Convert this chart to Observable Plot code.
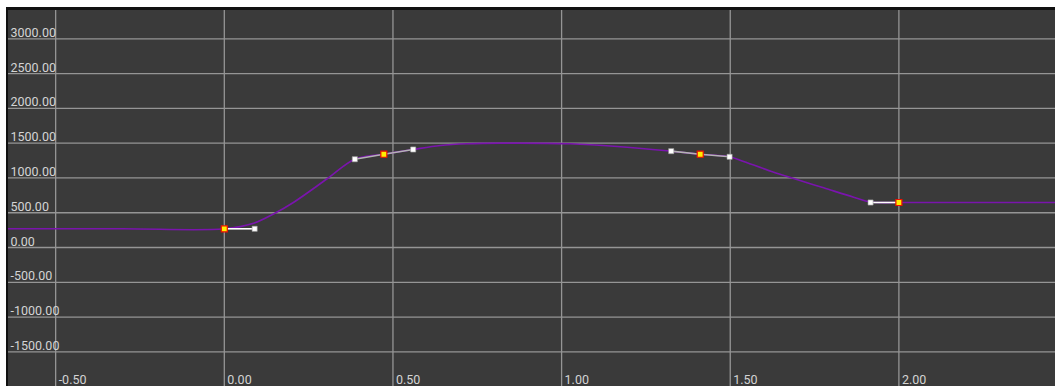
<!DOCTYPE html>
<html>
<head>
<meta charset="utf-8">
<script src="https://cdn.jsdelivr.net/npm/d3@7"></script>
<script src="https://cdn.jsdelivr.net/npm/@observablehq/plot@0.6"></script>
<style>
  html, body { margin: 0; padding: 0; background: #ffffff; width: 1055px; height: 386px; overflow: hidden; }
  #chart svg { position: absolute; left: 6px; top: 7px; border-left: 2px solid #111; border-top: 3px solid #111; display: block; }
</style>
</head>
<body>
<div id="chart"></div>
<script>
// Curve samples (time, value)
const curveT = [-0.64, -0.3, 0, 0.087, 0.147, 0.206, 0.305, 0.387, 0.473, 0.56, 0.641, 0.72, 0.819, 1.026, 1.165, 1.313, 1.411, 1.498, 1.531, 1.629, 1.688, 1.777, 1.866, 1.916, 2.0, 2.2, 2.47];
const curveV = [269, 269, 269, 349, 485, 651, 988, 1269, 1341, 1409, 1466, 1491, 1500, 1491, 1452, 1390, 1341, 1304, 1251, 1083, 992, 858, 723, 654, 647, 647, 647];

// Keyframes
const keyT = [0, 0.473, 1.411, 2.0];
const keyV = [269, 1341, 1341, 647];

// Tangent handles: key index, handle time, handle value, bright line
const handleKey = [0, 1, 1, 2, 2, 3];
const handleT = [0.09, 0.387, 0.56, 1.325, 1.498, 1.916];
const handleV = [269, 1269, 1409, 1385, 1304, 647];
const handleBright = [true, false, false, false, false, true];

// Ticks
const xTicks = [-0.5, 0, 0.5, 1.0, 1.5, 2.0];
const yTicks = [-1500, -1000, -500, 0, 500, 1000, 1500, 2000, 2500, 3000];

const curve = curveT.map((t, i) => ({t, v: curveV[i]}));
const keys = keyT.map((t, i) => ({t, v: keyV[i]}));
const handles = handleT.map((t, i) => ({
  t, v: handleV[i], kt: keyT[handleKey[i]], kv: keyV[handleKey[i]], bright: handleBright[i]
}));

const W = 1047, H = 376;
const fmt = d => d.toFixed(2);

const chart = Plot.plot({
  width: W,
  height: H,
  marginLeft: 0, marginRight: 0, marginTop: 0, marginBottom: 0,
  style: {background: "#3a3a3a", fontFamily: "Roboto, sans-serif", fontSize: "12px", overflow: "hidden"},
  x: {domain: [-0.6398, 2.4643], axis: null},
  y: {domain: [-1998, 3407], axis: null},
  marks: [
    Plot.gridX(xTicks, {stroke: "#959595", strokeOpacity: 1, strokeWidth: 1.3}),
    Plot.gridY(yTicks, {stroke: "#959595", strokeOpacity: 1, strokeWidth: 1.3}),
    Plot.text(yTicks, {y: d => d, text: fmt, frameAnchor: "left", textAnchor: "start", lineAnchor: "bottom", dx: 2, dy: -2, fill: "#d4d4d4", fontSize: 12.5}),
    Plot.text(xTicks, {x: d => d, text: fmt, frameAnchor: "bottom", textAnchor: "start", lineAnchor: "bottom", dx: 3, dy: -3, fill: "#d4d4d4", fontSize: 12.5}),
    Plot.line(curve, {x: "t", y: "v", stroke: "#7a14ad", strokeWidth: 1.6, curve: "catmull-rom"}),
    Plot.link(handles, {x1: "kt", y1: "kv", x2: "t", y2: "v", stroke: d => d.bright ? "#ffffff" : "#b4b4b4", strokeWidth: 1.6}),
    Plot.dot(handles, {x: "t", y: "v", symbol: "square", r: 2.9, fill: "#ffffff", stroke: "#9a9a9a", strokeWidth: 0.6}),
    Plot.dot(keys, {x: "t", y: "v", symbol: "square", r: 3.4, fill: "#ffee00", stroke: "#ee1100", strokeWidth: 1.2})
  ]
});
document.getElementById("chart").appendChild(chart);
</script>
</body>
</html>
